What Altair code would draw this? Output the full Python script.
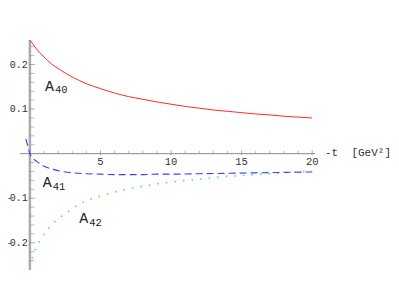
import altair as alt
import pandas as pd

# ---- data ----
t40 = [0, 0.25, 0.5, 0.75, 1, 1.5, 2, 2.5, 3, 4, 5, 6, 7, 8, 9, 10, 11, 12, 13, 14, 15, 16, 17, 18, 19, 20]
a40 = [0.255, 0.244, 0.234, 0.225, 0.217, 0.202, 0.191, 0.181, 0.172, 0.157, 0.146, 0.136, 0.128, 0.122, 0.116,
       0.111, 0.106, 0.102, 0.098, 0.095, 0.092, 0.089, 0.087, 0.084, 0.082, 0.080]

t41 = [-0.28, -0.14, 0, 0.25, 0.5, 0.75, 1, 1.5, 2, 2.5, 3, 4, 5, 6, 7, 8, 9, 10, 12, 14, 16, 18, 20]
a41 = [0.033, 0.016, 0.0, -0.011, -0.018, -0.024, -0.028, -0.034, -0.038, -0.041, -0.043, -0.045, -0.046,
       -0.047, -0.047, -0.047, -0.046, -0.046, -0.045, -0.044, -0.043, -0.042, -0.041]

t42 = [0, 0.25, 0.5, 0.83, 1.3, 2, 2.5, 3, 3.5, 4, 5, 6, 7, 8, 9, 10, 11, 12, 13, 14, 15, 16, 17, 18, 19, 20]
a42 = [-0.254, -0.225, -0.207, -0.189, -0.169, -0.146, -0.135, -0.124, -0.113, -0.106, -0.095, -0.086, -0.079,
       -0.073, -0.068, -0.064, -0.060, -0.057, -0.054, -0.051, -0.049, -0.047, -0.045, -0.043, -0.041, -0.039]

x_major = [5, 10, 15, 20]
x_major_labels = ["5", "10", "15", "20"]
x_minor = [1, 2, 3, 4, 6, 7, 8, 9, 11, 12, 13, 14, 16, 17, 18, 19]
y_major = [-0.2, -0.1, 0.1, 0.2]
y_major_labels = ["-0.2", "-0.1", "0.1", "0.2"]
y_minor = [-0.24, -0.22, -0.18, -0.16, -0.14, -0.12, -0.08, -0.06, -0.04, -0.02,
           0.02, 0.04, 0.06, 0.08, 0.12, 0.14, 0.16, 0.18, 0.22, 0.24]

XDOM = [-0.7, 20.2]
YDOM = [-0.261, 0.255]

curve_names = ["A", "A", "A"]
curve_subs = ["40", "41", "42"]
label_x = [1.07, 0.91, 3.5]
label_y = [0.1417, -0.0755, -0.156]

axis_title = "-t\u00a0\u00a0[GeV²]"

# ---- build ----
X = alt.Scale(domain=XDOM, nice=False, zero=False)
Y = alt.Scale(domain=YDOM, nice=False, zero=False)
MONO = "Liberation Mono"


def xq(f):
    return alt.X(f, type="quantitative", scale=X, axis=None)


def yq(f):
    return alt.Y(f, type="quantitative", scale=Y, axis=None)


d40 = pd.DataFrame({"t": t40, "v": a40})
d41 = pd.DataFrame({"t": t41, "v": a41})
d42 = pd.DataFrame({"t": t42, "v": a42})

xaxis_df = pd.DataFrame({"x0": [XDOM[0]], "x1": [XDOM[1]], "y": [0.0]})
yaxis_df = pd.DataFrame({"y0": [YDOM[0]], "y1": [YDOM[1]], "x": [0.0]})

yaxis_line = alt.Chart(yaxis_df).mark_rule(color="#ababab", strokeWidth=2.5).encode(
    x=xq("x"), y=yq("y0"), y2="y1")
xaxis_line = alt.Chart(xaxis_df).mark_rule(color="#8a8a8a", strokeWidth=1).encode(
    x=xq("x0"), x2="x1", y=yq("y"))

xmaj_df = pd.DataFrame({"x": x_major, "y": [0.0] * len(x_major), "lab": x_major_labels})
xmin_df = pd.DataFrame({"x": x_minor, "y": [0.0] * len(x_minor)})
ymaj_df = pd.DataFrame({
    "y": y_major, "x": [0.0] * len(y_major),
    "digits": [s.lstrip("-") for s in y_major_labels],
    "sign": ["-" if s.startswith("-") else "" for s in y_major_labels],
})
ymin_df = pd.DataFrame({"y": y_minor, "x": [0.0] * len(y_minor)})

xmaj_ticks = alt.Chart(xmaj_df).mark_tick(orient="vertical", size=5, thickness=1, color="#8a8a8a", yOffset=-1).encode(
    x=xq("x"), y=yq("y"))
xmin_ticks = alt.Chart(xmin_df).mark_tick(orient="vertical", size=3, thickness=1, color="#9a9a9a", yOffset=-1.5).encode(
    x=xq("x"), y=yq("y"))
ymaj_ticks = alt.Chart(ymaj_df).mark_tick(orient="horizontal", size=6, thickness=1, color="#8a8a8a", xOffset=2).encode(
    x=xq("x"), y=yq("y"))
ymin_ticks = alt.Chart(ymin_df).mark_tick(orient="horizontal", size=5, thickness=1, color="#9a9a9a", xOffset=2).encode(
    x=xq("x"), y=yq("y"))

xlabels = alt.Chart(xmaj_df).mark_text(font=MONO, fontSize=10.5, color="#333333", baseline="top", dy=3).encode(
    x=xq("x"), y=yq("y"), text="lab:N")
ylabels = alt.Chart(ymaj_df).mark_text(font=MONO, fontSize=10, color="#333333", align="right",
                                       baseline="middle", dx=-2).encode(
    x=xq("x"), y=yq("y"), text="digits:N")
ysigns = alt.Chart(ymaj_df).mark_text(font="Liberation Sans", fontSize=9.5, color="#333333", align="right",
                                      baseline="middle", dx=-19).encode(
    x=xq("x"), y=yq("y"), text="sign:N")

title_df = pd.DataFrame({"x": [XDOM[1]], "y": [0.0], "lab": [axis_title]})
title_txt = alt.Chart(title_df).mark_text(font=MONO, fontSize=11, color="#333333", align="left",
                                          baseline="middle", dx=10, dy=-1).encode(
    x=xq("x"), y=yq("y"), text="lab:N")

red = alt.Chart(d40).mark_line(color="#ff2a2a", strokeWidth=1, interpolate="monotone").encode(
    x=xq("t"), y=yq("v"))
blue = alt.Chart(d41).mark_line(color="#4040ff", strokeWidth=1.1, strokeDash=[7, 4],
                                interpolate="monotone").encode(x=xq("t"), y=yq("v"))
green = alt.Chart(d42).mark_line(color="#55ee55", strokeWidth=1.6, strokeDash=[1.6, 7],
                                 interpolate="monotone").encode(x=xq("t"), y=yq("v"))

lab_df = pd.DataFrame({"x": label_x, "y": label_y, "name": curve_names, "sub": curve_subs})
lab_main = alt.Chart(lab_df).mark_text(font=MONO, fontSize=15, color="#222222", align="left",
                                       baseline="alphabetic").encode(
    x=xq("x"), y=yq("y"), text="name:N")
lab_sub = alt.Chart(lab_df).mark_text(font=MONO, fontSize=10.5, color="#222222", align="left",
                                      baseline="alphabetic", dx=10, dy=2.5).encode(
    x=xq("x"), y=yq("y"), text="sub:N")

chart = alt.layer(
    yaxis_line, xaxis_line, xmin_ticks, xmaj_ticks, ymin_ticks, ymaj_ticks,
    green, blue, red, xlabels, ylabels, ysigns, title_txt, lab_main, lab_sub
).properties(
    width=295, height=230,
    autosize=alt.AutoSizeParams(type="none"),
    padding={"left": 12, "top": 32, "right": 76, "bottom": 29},
).configure_view(stroke=None)

chart.save("out.html", embed_options={"renderer": "svg", "actions": False})
